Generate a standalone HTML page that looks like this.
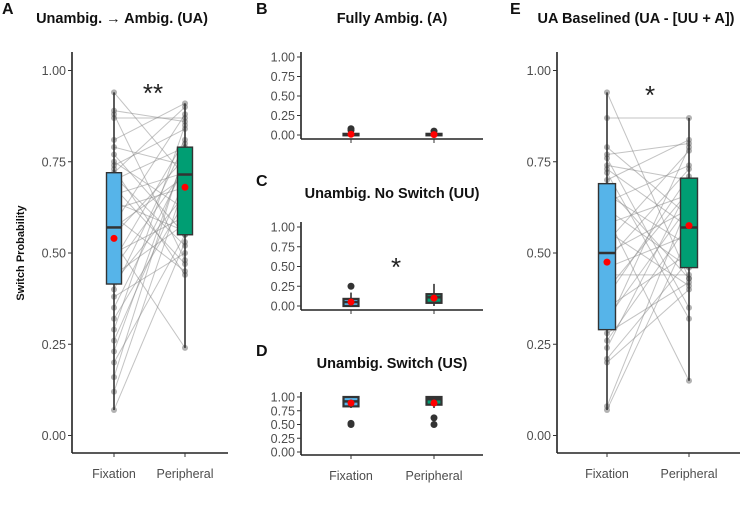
<!DOCTYPE html>
<html><head><meta charset="utf-8"><style>
body{margin:0;background:#fff;}
svg{display:block;font-family:"Liberation Sans",Arial,sans-serif;}
</style></head><body>
<svg id="c" width="750" height="506" viewBox="0 0 750 506"></svg>
<script>
const categories=["Fixation","Peripheral"];
const yTicks=[0,0.25,0.5,0.75,1];
const tickLabels=["0.00","0.25","0.50","0.75","1.00"];
// Panel A paired data
const fixA=[0.94,0.89,0.88,0.87,0.81,0.79,0.77,0.75,0.74,0.73,0.72,0.71,0.70,0.68,0.66,0.64,0.62,0.60,0.58,0.57,0.55,0.53,0.50,0.48,0.46,0.44,0.42,0.40,0.38,0.35,0.32,0.29,0.26,0.23,0.20,0.16,0.12,0.07];
const perA=[0.71,0.86,0.48,0.87,0.91,0.74,0.55,0.62,0.84,0.44,0.90,0.52,0.79,0.47,0.72,0.56,0.68,0.45,0.88,0.71,0.76,0.24,0.60,0.81,0.73,0.58,0.66,0.80,0.50,0.74,0.64,0.85,0.70,0.77,0.55,0.78,0.69,0.53];
// Panel E paired data
const fixE=[0.94,0.87,0.79,0.77,0.76,0.74,0.73,0.72,0.70,0.68,0.66,0.64,0.62,0.60,0.58,0.56,0.53,0.50,0.48,0.46,0.44,0.40,0.38,0.35,0.32,0.30,0.28,0.26,0.24,0.21,0.20,0.08,0.07];
const perE=[0.43,0.87,0.60,0.80,0.35,0.70,0.57,0.32,0.81,0.43,0.52,0.74,0.46,0.15,0.66,0.41,0.78,0.62,0.73,0.55,0.44,0.67,0.71,0.50,0.63,0.79,0.42,0.58,0.68,0.48,0.40,0.64,0.55];
// box stats: [lowWhisker,q1,median,q3,highWhisker,mean]
const statsA=[[0.07,0.415,0.57,0.72,0.94,0.54],[0.24,0.55,0.715,0.79,0.91,0.68]];
const statsE=[[0.07,0.29,0.50,0.69,0.94,0.475],[0.15,0.46,0.57,0.705,0.87,0.575]];
const statsB=[[0,0,0.005,0.015,0.03,0.01],[0,0,0.005,0.015,0.03,0.005]];
const outB=[[0.08,0.06],[0.05]];
const statsC=[[0,0,0.05,0.09,0.17,0.05],[0,0.04,0.11,0.15,0.28,0.10]];
const outC=[[0.25],[]];
const statsD=[[0.8,0.83,0.92,1.0,1.0,0.89],[0.8,0.86,0.96,1.0,1.0,0.89]];
const outD=[[0.5,0.52],[0.62,0.5]];
const colors=["#56B4E9","#009E73"];
const svg=document.getElementById('c');
const NS="http://www.w3.org/2000/svg";
function mk(t,a,p,txt){const e=document.createElementNS(NS,t);for(const k in a)e.setAttribute(k,a[k]);if(txt!==undefined)e.textContent=txt;(p||svg).appendChild(e);return e;}
function panel(o){
  const g=mk('g',{});
  
  
  const y=v=>o.y0+(o.y1-o.y0)*v;
  const x=i=>o.xs[i];
  mk('line',{x1:o.ax,y1:o.top,x2:o.ax,y2:o.base,stroke:'#222','stroke-width':1.6},g);
  mk('line',{x1:o.ax,y1:o.base,x2:o.xend,y2:o.base,stroke:'#222','stroke-width':1.6},g);
  yTicks.forEach((v,i)=>{
    mk('line',{x1:o.ax-4,y1:y(v),x2:o.ax,y2:y(v),stroke:'#333'},g);
    const t=mk('text',{x:o.ax-6,y:y(v)+4.5,'text-anchor':'end','font-size':12.5,fill:'#4d4d4d'},g,tickLabels[i]);
    
  });
  categories.forEach((c,i)=>{
    mk('line',{x1:x(i),y1:o.base,x2:x(i),y2:o.base+4,stroke:'#333'},g);
    if(o.xlab){const t=mk('text',{x:x(i),y:o.base+25,'text-anchor':'middle','font-size':12.5,fill:'#4d4d4d'},g,c);}
  });
  if(o.pairs){
    const [f,p]=o.pairs;
    f.forEach((v,k)=>{const l=mk('line',{x1:x(0),y1:y(v),x2:x(1),y2:y(p[k]),stroke:'#888','stroke-opacity':0.5,'stroke-width':1},g);});
    o.pairs.forEach((arr,i)=>arr.forEach(v=>{const c=mk('circle',{cx:x(i),cy:y(v),r:3,fill:'#555','fill-opacity':0.45},g);}));
  }
  o.stats.forEach((s,i)=>{
    const w=o.bw;
    mk('line',{x1:x(i),y1:y(s[0]),x2:x(i),y2:y(s[4]),stroke:'#333','stroke-width':1.6},g);
    const r=mk('rect',{x:x(i)-w/2,y:y(s[3]),width:w,height:Math.max(y(s[1])-y(s[3]),1.5),fill:colors[i],stroke:'#333','stroke-width':o.small?2.2:1.4},g);
    
    
    mk('line',{x1:x(i)-w/2,y1:y(s[2]),x2:x(i)+w/2,y2:y(s[2]),stroke:'#333','stroke-width':2.5},g);
  });
  if(o.out){o.out.forEach((arr,i)=>arr.forEach(v=>{const c=mk('circle',{cx:x(i),cy:y(v),r:3.5,fill:'#333'},g);}));}
  o.stats.forEach((s,i)=>{const c=mk('circle',{cx:x(i),cy:y(s[5]),r:3.5,fill:'#ff0000'},g);});
  const t=mk('text',{x:o.tx,y:o.ty,'text-anchor':'middle','font-size':14.5,'font-weight':'bold',fill:'#111'},g,o.title);
  const L=mk('text',{x:o.lx,y:o.ly,'font-size':16,'font-weight':'bold',fill:'#111'},g,o.letter);
  if(o.star){const s=mk('text',{x:o.star[0],y:o.star[1],'text-anchor':'middle','font-size':26,fill:'#222'},g,o.star[2]);}
}
panel({name:'panel-a',ax:72,top:52,base:453,xend:228,y0:435.5,y1:70.5,xs:[114,185],bw:15,pairs:[fixA,perA],stats:statsA,xlab:true,title:'Unambig. \u2192 Ambig. (UA)',tx:122,ty:23,letter:'A',lx:2,ly:14,star:[153,102,'**']});
panel({name:'panel-b',ax:301,top:52,base:139,xend:483,y0:135,y1:57,xs:[351,434],bw:15,small:true,stats:statsB,out:outB,xlab:false,title:'Fully Ambig. (A)',tx:392,ty:23,letter:'B',lx:256,ly:14});
panel({name:'panel-c',ax:301,top:222,base:310,xend:483,y0:306,y1:227,xs:[351,434],bw:15,small:true,stats:statsC,out:outC,xlab:false,title:'Unambig. No Switch (UU)',tx:392,ty:198,letter:'C',lx:256,ly:186});
panel({name:'panel-d',ax:301,top:392,base:455,xend:483,y0:452,y1:397,xs:[351,434],bw:15,small:true,stats:statsD,out:outD,xlab:true,title:'Unambig. Switch (US)',tx:392,ty:368,letter:'D',lx:256,ly:356});
panel({name:'panel-e',ax:557,top:52,base:453,xend:740,y0:435.5,y1:70.5,xs:[607,689],bw:17,pairs:[fixE,perE],stats:statsE,xlab:true,title:'UA Baselined (UA - [UU + A])',tx:636,ty:23,letter:'E',lx:510,ly:14,star:[650,104,'*']});
// C star
const st=mk('text',{x:396,y:276,'text-anchor':'middle','font-size':26,fill:'#222'},svg,'*');


const yl=mk('text',{x:24,y:253,'text-anchor':'middle','font-size':11,'font-weight':'bold',fill:'#111',transform:'rotate(-90 24 253)'},svg,'Switch Probability');


</script>
</body></html>
